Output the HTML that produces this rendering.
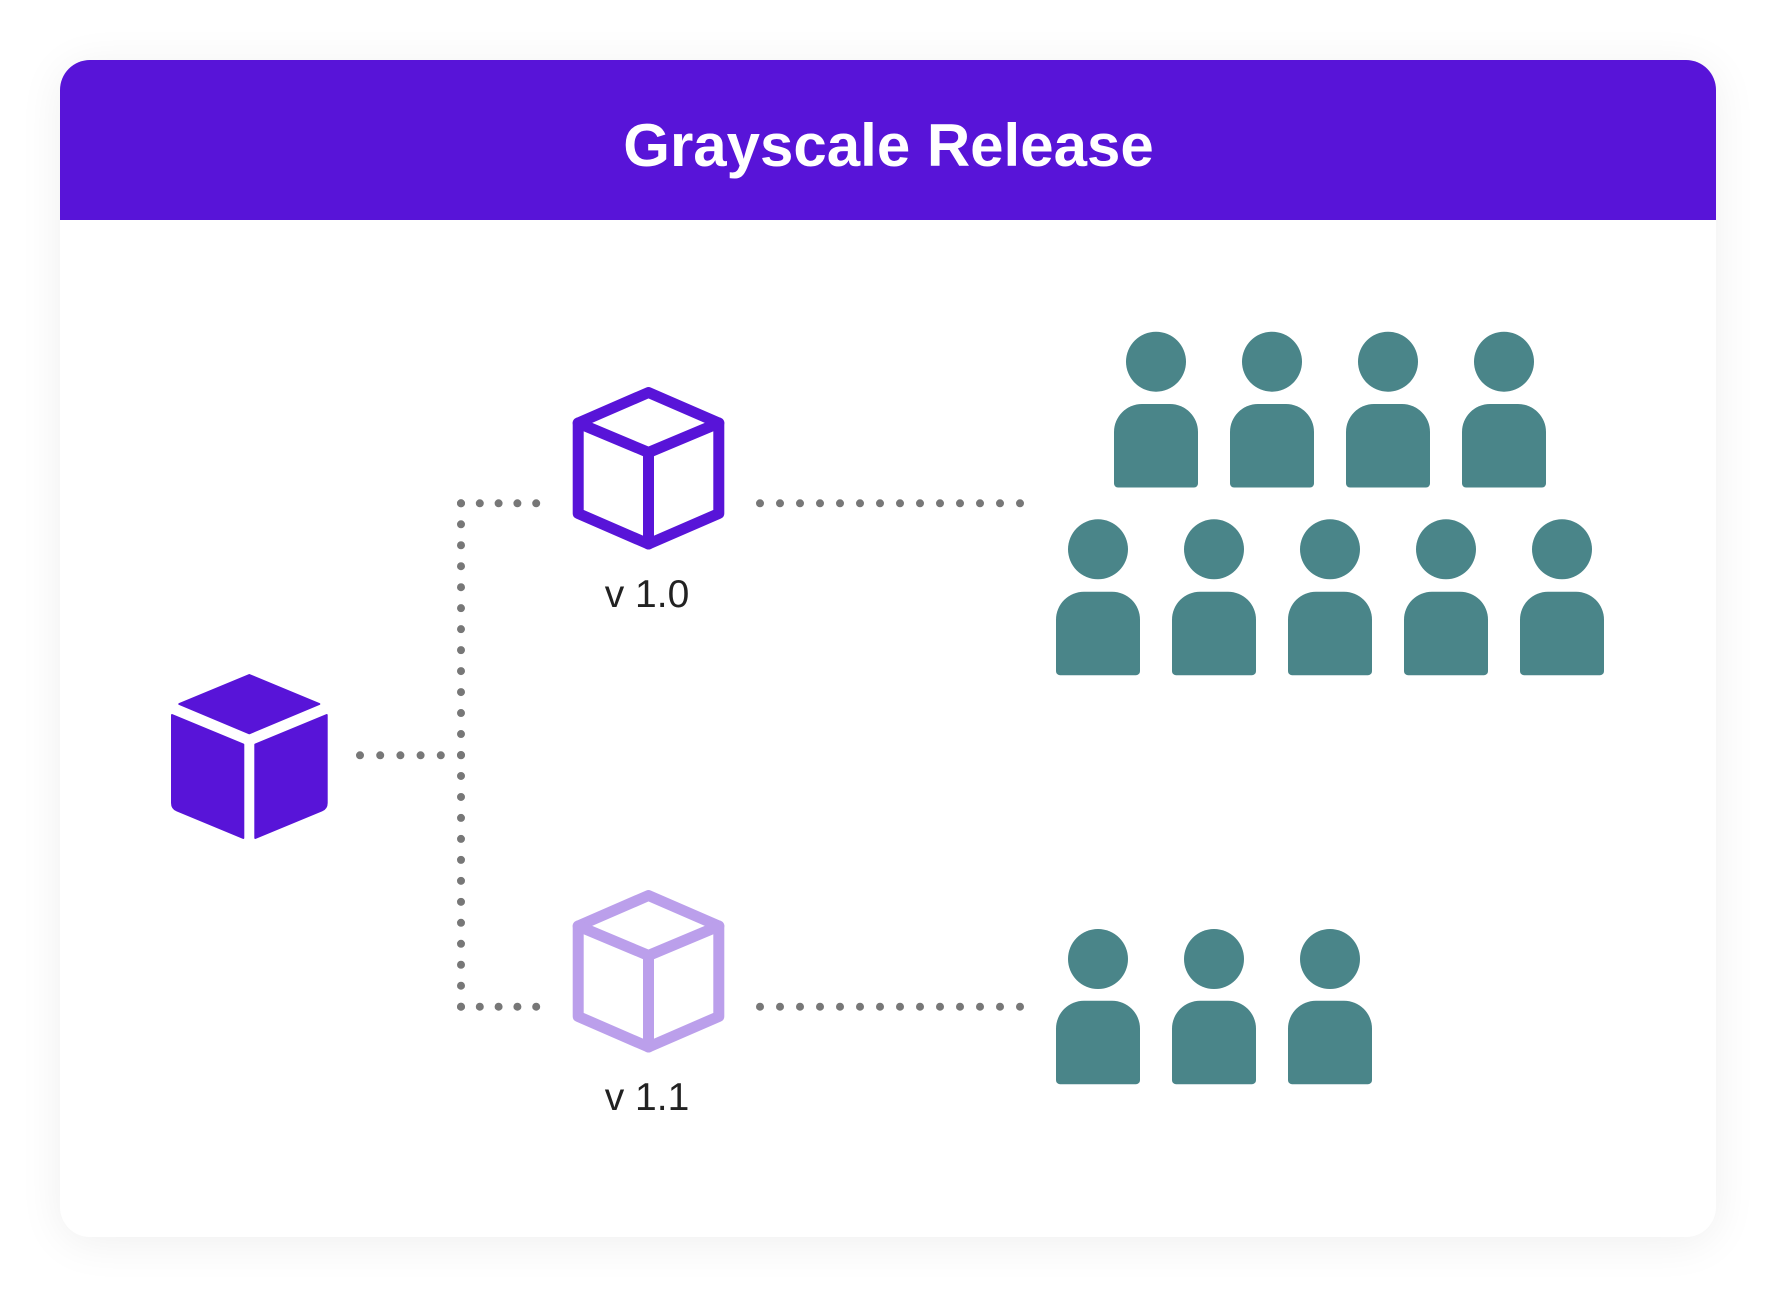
<!DOCTYPE html>
<html>
<head>
<meta charset="utf-8">
<style>
  html, body { margin:0; padding:0; background:#ffffff; }
  body { width:1777px; height:1297px; position:relative; overflow:hidden; }
  .card {
    position:absolute; left:60px; top:60px; width:1656px; height:1177px;
    border-radius:30px; background:#fff;
    box-shadow: 0 6px 45px rgba(0,0,0,0.065);
  }
  svg { position:absolute; left:0; top:0; }
</style>
</head>
<body>
<div class="card"></div>
<svg width="1777" height="1297" viewBox="0 0 1777 1297" xmlns="http://www.w3.org/2000/svg">
  <defs>
    <path id="body" d="M -42 28 A 28 28 0 0 1 -14 0 H 14 A 28 28 0 0 1 42 28 V 79.5 A 4 4 0 0 1 38 83.5 H -38 A 4 4 0 0 1 -42 79.5 Z"/>
    <g id="cubeOutline" fill="none" stroke-width="11" stroke-linejoin="round" stroke-linecap="round">
      <path d="M 648.5 392.5 L 718.8 423 L 718.8 513.5 L 648.5 544 L 578.2 513.5 L 578.2 423 Z"/>
      <path d="M 578.2 423 L 648.5 452.5 L 718.8 423 M 648.5 452.5 L 648.5 544"/>
    </g>
  </defs>

  <path d="M 60 220 V 90 A 30 30 0 0 1 90 60 H 1686 A 30 30 0 0 1 1716 90 V 220 Z" fill="#5814D8"/>
  <text x="888.5" y="166" text-anchor="middle" font-family="'Liberation Sans', Arial, sans-serif" font-weight="bold" font-size="60" fill="#ffffff">Grayscale Release</text>

  <g fill="#5814D8" stroke="#5814D8" stroke-width="2" stroke-linejoin="round">
    <polygon points="249.3,675 319.3,704 249.3,733.3 179.3,704"/>
    <path d="M 172 715 L 243.3 744.5 L 243.3 838 L 177 810.5 Q 172 808.5 172 803 Z"/>
    <path d="M 326.7 715 L 255.3 744.5 L 255.3 838 L 321.7 810.5 Q 326.7 808.5 326.7 803 Z"/>
  </g>

  <use href="#cubeOutline" stroke="#5814D8"/>
  <g transform="translate(0,503)">
    <use href="#cubeOutline" stroke="#BB9FEB"/>
  </g>

  <text x="647" y="607" text-anchor="middle" font-family="'Liberation Sans', Arial, sans-serif" font-size="39" fill="#222222">v 1.0</text>
  <text x="647" y="1110" text-anchor="middle" font-family="'Liberation Sans', Arial, sans-serif" font-size="39" fill="#222222">v 1.1</text>

  <g stroke="#777777" stroke-width="8" stroke-linecap="round" fill="none">
    <line x1="360" y1="755.3" x2="462" y2="755.3" stroke-dasharray="0 20.2"/>
    <line x1="461" y1="503.3" x2="461" y2="1007.5" stroke-dasharray="0 20.975"/>
    <line x1="461" y1="503.3" x2="537" y2="503.3" stroke-dasharray="0 18.8"/>
    <line x1="461" y1="1006.7" x2="537" y2="1006.7" stroke-dasharray="0 18.8"/>
    <line x1="760" y1="503.3" x2="1021" y2="503.3" stroke-dasharray="0 20"/>
    <line x1="760" y1="1006.7" x2="1021" y2="1006.7" stroke-dasharray="0 20"/>
  </g>

  <g fill="#4A8589">
    <circle cx="1156" cy="361.7" r="30"/><use href="#body" transform="translate(1156,404)"/>
    <circle cx="1272" cy="361.7" r="30"/><use href="#body" transform="translate(1272,404)"/>
    <circle cx="1388" cy="361.7" r="30"/><use href="#body" transform="translate(1388,404)"/>
    <circle cx="1504" cy="361.7" r="30"/><use href="#body" transform="translate(1504,404)"/>
    <circle cx="1098" cy="549.3" r="30"/><use href="#body" transform="translate(1098,591.7)"/>
    <circle cx="1214" cy="549.3" r="30"/><use href="#body" transform="translate(1214,591.7)"/>
    <circle cx="1330" cy="549.3" r="30"/><use href="#body" transform="translate(1330,591.7)"/>
    <circle cx="1446" cy="549.3" r="30"/><use href="#body" transform="translate(1446,591.7)"/>
    <circle cx="1562" cy="549.3" r="30"/><use href="#body" transform="translate(1562,591.7)"/>
    <circle cx="1098" cy="959" r="30"/><use href="#body" transform="translate(1098,1000.7)"/>
    <circle cx="1214" cy="959" r="30"/><use href="#body" transform="translate(1214,1000.7)"/>
    <circle cx="1330" cy="959" r="30"/><use href="#body" transform="translate(1330,1000.7)"/>
  </g>
</svg>
</body>
</html>
